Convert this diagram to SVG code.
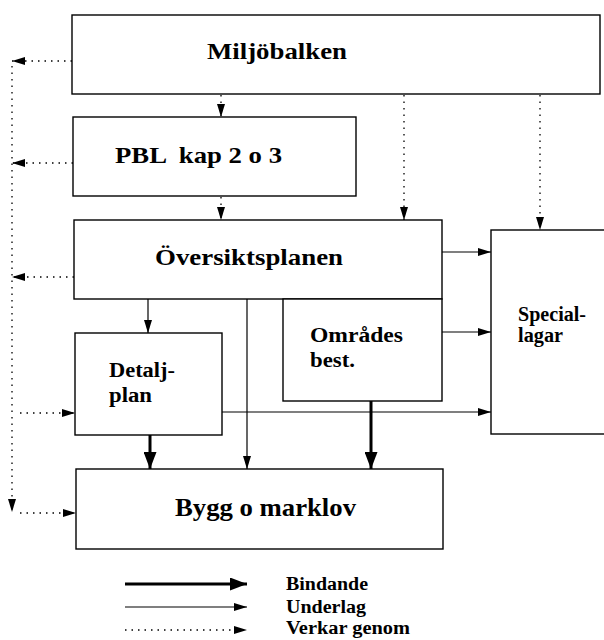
<svg xmlns="http://www.w3.org/2000/svg" width="604" height="640" viewBox="0 0 604 640">
<style>
.box{fill:#fff;stroke:#000;stroke-width:1.4}
.t{font-family:"Liberation Serif","Times New Roman",serif;font-weight:bold;fill:#000}
.thin{stroke:#000;stroke-width:1.2;fill:none}
.thick{stroke:#000;stroke-width:3;fill:none}
.dot{stroke:#000;stroke-width:1.3;stroke-dasharray:1.5 5;fill:none}
</style>
<defs>
<marker id="ah" markerUnits="userSpaceOnUse" markerWidth="13" markerHeight="8" refX="13" refY="4" orient="auto"><path d="M0,0 L13,4 L0,8 z" fill="#000"/></marker>
<marker id="ahb" markerUnits="userSpaceOnUse" markerWidth="17" markerHeight="13" refX="17" refY="6.5" orient="auto"><path d="M0,0 L17,6.5 L0,13 z" fill="#000"/></marker>
</defs>
<rect width="604" height="640" fill="#fff"/>
<g id="miljobalken"><rect class="box" x="72" y="15" width="528" height="79"/><text class="t" x="207" y="59" font-size="24" textLength="140" lengthAdjust="spacingAndGlyphs">Miljöbalken</text></g>
<g id="pbl"><rect class="box" x="73" y="117" width="283" height="79"/><text class="t" x="115" y="163" font-size="24" textLength="167" lengthAdjust="spacingAndGlyphs" style="white-space:pre">PBL  kap 2 o 3</text></g>
<g id="oversiktsplanen"><rect class="box" x="74" y="220" width="368" height="79"/><text class="t" x="155" y="265" font-size="24" textLength="188" lengthAdjust="spacingAndGlyphs">Översiktsplanen</text></g>
<g id="speciallagar"><rect class="box" x="491" y="230" width="130" height="204"/><text class="t" x="518" y="321" font-size="20" textLength="68" lengthAdjust="spacingAndGlyphs">Special-</text><text class="t" x="518" y="342" font-size="20" textLength="45" lengthAdjust="spacingAndGlyphs">lagar</text></g>
<g id="omradesbest"><rect class="box" x="283" y="299" width="159" height="102"/><text class="t" x="310" y="342" font-size="20" textLength="93" lengthAdjust="spacingAndGlyphs">Områdes</text><text class="t" x="310" y="367" font-size="20" textLength="45" lengthAdjust="spacingAndGlyphs">best.</text></g>
<g id="detaljplan"><rect class="box" x="75" y="333" width="147" height="102"/><text class="t" x="109" y="377" font-size="20" textLength="66" lengthAdjust="spacingAndGlyphs">Detalj-</text><text class="t" x="109" y="402" font-size="20" textLength="43" lengthAdjust="spacingAndGlyphs">plan</text></g>
<g id="byggomarklov"><rect class="box" x="76" y="469" width="367" height="80"/><text class="t" x="175" y="516" font-size="25" textLength="181" lengthAdjust="spacingAndGlyphs">Bygg o marklov</text></g>
<g id="connectors">
<line class="dot" x1="72" y1="61" x2="12" y2="61" marker-end="url(#ah)"/>
<line class="dot" x1="73" y1="163" x2="12" y2="163" marker-end="url(#ah)"/>
<line class="dot" x1="74" y1="277" x2="12" y2="277" marker-end="url(#ah)"/>
<line class="dot" x1="12" y1="66" x2="12" y2="512" marker-end="url(#ah)"/>
<line class="dot" x1="20" y1="513" x2="76" y2="513" marker-end="url(#ah)"/>
<line class="dot" x1="20" y1="413" x2="75" y2="413" marker-end="url(#ah)"/>
<line class="dot" x1="221" y1="95" x2="221" y2="117" marker-end="url(#ah)"/>
<line class="dot" x1="221" y1="197" x2="221" y2="220" marker-end="url(#ah)"/>
<line class="dot" x1="404" y1="95" x2="404" y2="220" marker-end="url(#ah)"/>
<line class="dot" x1="540" y1="95" x2="540" y2="230" marker-end="url(#ah)"/>
<line class="thin" x1="442" y1="252" x2="491" y2="252" marker-end="url(#ah)"/>
<line class="thin" x1="442" y1="332" x2="491" y2="332" marker-end="url(#ah)"/>
<line class="thin" x1="222" y1="412" x2="491" y2="412" marker-end="url(#ah)"/>
<line class="thin" x1="148" y1="299" x2="148" y2="333" marker-end="url(#ah)"/>
<line class="thin" x1="247" y1="299" x2="247" y2="469" marker-end="url(#ah)"/>
<line class="thick" x1="150" y1="435" x2="150" y2="469" marker-end="url(#ahb)"/>
<line class="thick" x1="371" y1="401" x2="371" y2="469" marker-end="url(#ahb)"/>
</g>
<g id="legend">
<line class="thick" x1="125" y1="584" x2="247" y2="584" marker-end="url(#ahb)"/>
<line class="thin" x1="125" y1="607" x2="247" y2="607" marker-end="url(#ah)"/>
<line class="dot" x1="125" y1="630" x2="247" y2="630" marker-end="url(#ah)"/>
<text class="t" x="286" y="590" font-size="18" textLength="82" lengthAdjust="spacingAndGlyphs">Bindande</text>
<text class="t" x="286" y="613" font-size="18" textLength="80" lengthAdjust="spacingAndGlyphs">Underlag</text>
<text class="t" x="286" y="634" font-size="18" textLength="124" lengthAdjust="spacingAndGlyphs">Verkar genom</text>
</g>
</svg>
